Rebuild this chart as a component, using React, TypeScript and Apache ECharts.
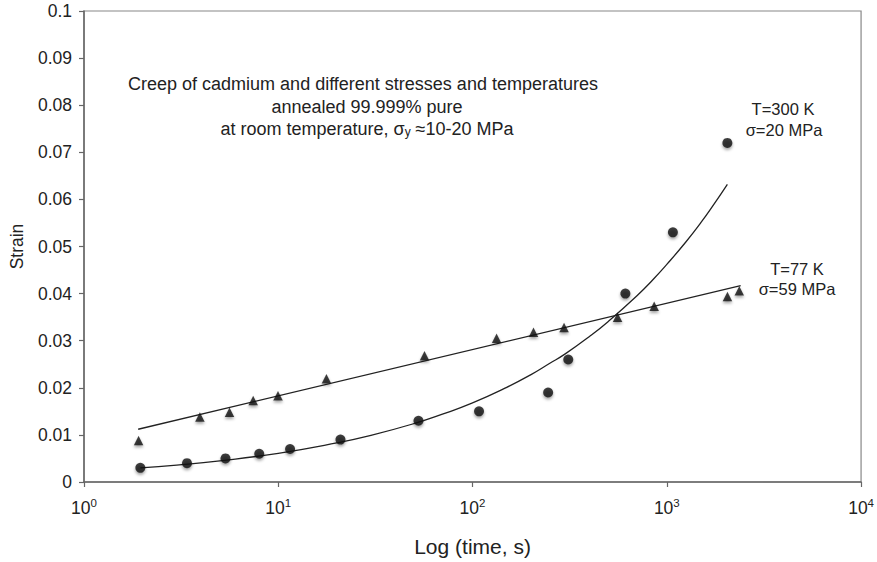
import React, { useEffect, useRef } from "react";
import * as echarts from "echarts";

// T = 300 K, sigma = 20 MPa (circles): [time s, strain]
const circleData: [number, number][] = [
  [1.95, 0.003], [3.39, 0.004], [5.35, 0.005], [7.98, 0.006], [11.5, 0.007],
  [20.9, 0.009], [52.7, 0.013], [108, 0.015], [245, 0.019], [311, 0.026],
  [612, 0.040], [1075, 0.053], [2050, 0.072],
];
// T = 77 K, sigma = 59 MPa (triangles)
const triangleData: [number, number][] = [
  [1.91, 0.0088], [3.95, 0.0138], [5.61, 0.0148], [7.43, 0.0173], [9.97, 0.0183],
  [17.7, 0.0219], [56.6, 0.0268], [133, 0.0305], [206, 0.0318], [296, 0.0328],
  [558, 0.035], [861, 0.0373], [2052, 0.0394], [2361, 0.0406],
];
// trend curves
const circleTrend: [number, number][] = [
  [1.95, 0.003], [3, 0.0036], [5, 0.0045], [10, 0.0061], [20, 0.0083],
  [30, 0.0099], [50, 0.0124], [70, 0.0144], [100, 0.0168], [150, 0.0201],
  [200, 0.0228], [250, 0.0252], [300, 0.0272], [400, 0.0309], [500, 0.0341],
  [700, 0.0395], [850, 0.043], [1000, 0.0462], [1250, 0.0509], [1500, 0.0551],
  [1750, 0.059], [2050, 0.0632],
];
const triangleTrend: [number, number][] = [[1.9, 0.0112], [2400, 0.0417]];

const yTicks = [0, 0.1];
const xRange = [1, 10000];
const titleLines = [
  "Creep of cadmium and different stresses and temperatures",
  "annealed 99.999% pure",
];
const FONT = "'Liberation Sans', Arial, Helvetica, sans-serif";
const TXT = "#222";

export default function App() {
  const ref = useRef<HTMLDivElement>(null);
  useEffect(() => {
    document.body.style.margin = "0";
    const chart = echarts.init(ref.current!, undefined, { renderer: "svg" });
    const shadow = {
      shadowBlur: 3,
      shadowColor: "rgba(0,0,0,0.45)",
      shadowOffsetX: 0,
      shadowOffsetY: 2,
    };
    const ann = (text: string, x: number, y: number) => ({
      type: "text",
      x,
      y,
      style: { text, fontSize: 16.5, fontFamily: FONT, fill: TXT, align: "center", verticalAlign: "middle" },
    });
    chart.setOption({
      animation: false,
      backgroundColor: "#fff",
      textStyle: { fontFamily: FONT },
      grid: {
        left: 83,
        right: 9,
        top: 11,
        bottom: 76,
        show: true,
        borderColor: "#888",
        borderWidth: 1.2,
      },
      xAxis: {
        type: "log",
        logBase: 10,
        min: xRange[0],
        max: xRange[1],
        name: "Log (time, s)",
        nameLocation: "middle",
        nameGap: 54,
        nameTextStyle: { fontSize: 21, color: TXT, fontFamily: FONT },
        axisLine: { lineStyle: { color: "#666", width: 1.5 } },
        axisTick: { show: true, length: 5, lineStyle: { color: "#666", width: 1.2 } },
        minorTick: { show: false },
        splitLine: { show: false },
        axisLabel: {
          margin: 15,
          color: TXT,
          formatter: (v: number) => `{b|10}{s|${Math.round(Math.log10(v))}}`,
          rich: {
            b: { fontSize: 17.5, color: TXT, fontFamily: FONT },
            s: { fontSize: 11.5, color: TXT, fontFamily: FONT, padding: [0, 0, 9, 0] },
          },
        },
      },
      yAxis: {
        type: "value",
        min: yTicks[0],
        max: yTicks[1],
        interval: 0.01,
        name: "Strain",
        nameLocation: "middle",
        nameGap: 58,
        nameTextStyle: { fontSize: 17.5, color: TXT, fontFamily: FONT },
        axisLine: { show: true, lineStyle: { color: "#666", width: 1.5 } },
        axisTick: { show: true, length: 5, lineStyle: { color: "#666", width: 1.2 } },
        splitLine: { show: false },
        axisLabel: {
          margin: 12,
          fontSize: 17.5,
          color: TXT,
          formatter: (v: number) => String(+v.toFixed(2)),
        },
      },
      series: [
        {
          type: "line",
          data: circleTrend,
          smooth: true,
          showSymbol: false,
          lineStyle: { color: "#222", width: 1.3 },
          z: 1,
        },
        {
          type: "line",
          data: triangleTrend,
          showSymbol: false,
          lineStyle: { color: "#222", width: 1.3 },
          z: 1,
        },
        {
          type: "scatter",
          data: circleData,
          symbol: "circle",
          symbolSize: 10,
          itemStyle: { color: "#111", ...shadow },
          z: 3,
        },
        {
          type: "scatter",
          data: triangleData,
          symbol: "triangle",
          symbolSize: 9.5,
          itemStyle: { color: "#111", ...shadow },
          z: 3,
        },
      ],
      graphic: [
        {
          type: "text",
          x: 363,
          y: 84,
          style: {
            text: titleLines[0],
            fontSize: 18,
            fontFamily: FONT,
            fill: TXT,
            align: "center",
            verticalAlign: "middle",
          },
        },
        {
          type: "text",
          x: 367,
          y: 107,
          style: {
            text: titleLines[1],
            fontSize: 18,
            fontFamily: FONT,
            fill: TXT,
            align: "center",
            verticalAlign: "middle",
          },
        },
        {
          type: "text",
          x: 367,
          y: 129,
          style: {
            text: "{a|at room temperature, σ}{sub|y}{a| ≈10-20 MPa}",
            align: "center",
            verticalAlign: "middle",
            rich: {
              a: { fontSize: 18, fontFamily: FONT, fill: TXT, color: TXT },
              sub: {
                fontSize: 12,
                fontFamily: FONT,
                fill: TXT,
                color: TXT,
                padding: [0, 0, -5, 0],
              },
            },
          },
        },
        ann("T=300 K", 783, 109),
        ann("σ=20 MPa", 784, 130),
        ann("T=77 K", 797, 269),
        ann("σ=59 MPa", 797, 289),
      ],
    });
    return () => chart.dispose();
  }, []);
  return <div ref={ref} style={{ width: 877, height: 562 }} />;
}
